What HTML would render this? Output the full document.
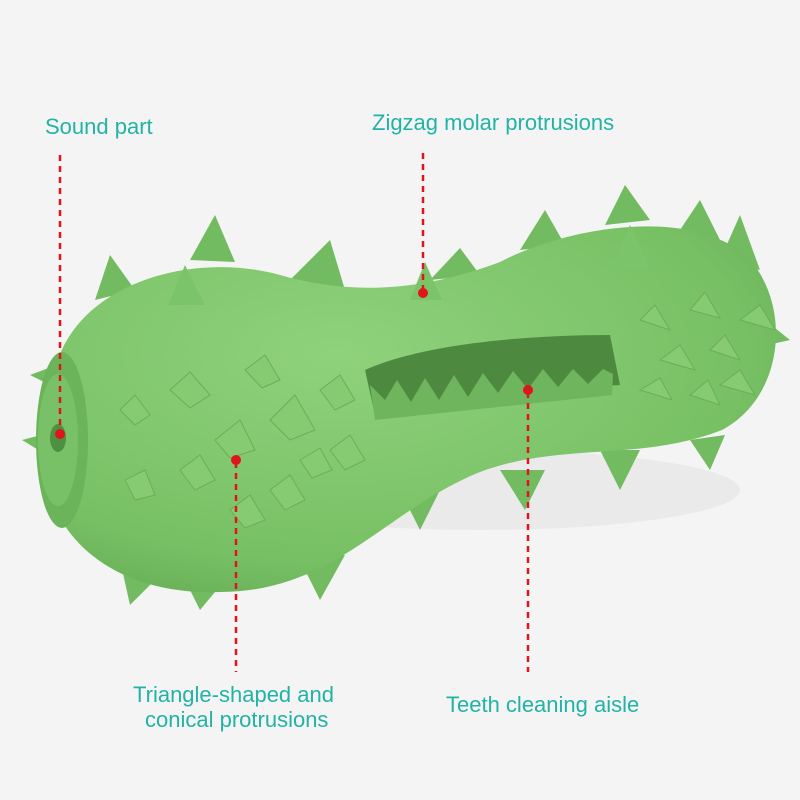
<!DOCTYPE html>
<html><head><meta charset="utf-8"><style>
html,body{margin:0;padding:0;background:#f4f4f4;}
.w{position:relative;width:800px;height:800px;overflow:hidden;background:#f4f4f4;font-family:"Liberation Sans",sans-serif;}
.t{position:absolute;color:#22b3a6;font-size:22px;white-space:nowrap;}
svg{position:absolute;left:0;top:0;}
</style></head><body><div class="w">
<svg width="800" height="800" viewBox="0 0 800 800">
<defs>
<radialGradient id="g" cx="0.4" cy="0.35" r="0.8">
<stop offset="0" stop-color="#8fd27c"/><stop offset="0.7" stop-color="#78c064"/><stop offset="1" stop-color="#5fa64f"/>
</radialGradient>
</defs>
<ellipse cx="480" cy="490" rx="260" ry="40" fill="#eaeaea"/>
<g fill="#72bb60">
<polygon points="190,260 215,215 235,262"/><polygon points="95,300 110,255 135,290"/>
<polygon points="290,280 330,240 345,290"/><polygon points="430,280 460,248 480,275"/>
<polygon points="520,250 545,210 565,245"/><polygon points="605,225 625,185 650,220"/>
<polygon points="680,230 700,200 720,240"/><polygon points="720,260 740,215 760,270"/>
<polygon points="120,560 130,605 160,575"/><polygon points="185,580 200,610 225,580"/>
<polygon points="300,560 320,600 345,555"/><polygon points="400,490 420,530 440,490"/>
<polygon points="500,470 525,510 545,470"/><polygon points="600,450 620,490 640,450"/>
<polygon points="690,440 710,470 725,435"/><polygon points="740,300 790,340 745,350"/>
<polygon points="30,375 70,360 60,390"/><polygon points="22,440 60,430 55,460"/>
</g>
<path d="M55,370 C75,285 190,250 280,275 C350,295 420,292 500,262 C570,225 700,205 752,262 C792,312 782,398 722,430 C640,462 560,442 480,472 C385,510 335,592 220,592 C118,596 48,540 44,462 Z" fill="url(#g)"/>
<ellipse cx="62" cy="440" rx="26" ry="88" fill="#6cb45a"/>
<ellipse cx="58" cy="440" rx="20" ry="66" fill="#79c166"/>
<ellipse cx="58" cy="438" rx="8" ry="14" fill="#4f8f42"/>
<path d="M365,370 C420,345 520,335 610,335 L620,385 C540,390 440,400 375,415 Z" fill="#4d8a40"/>
<path d="M370,385 l15,15 l12,-20 l14,22 l14,-24 l14,22 l15,-25 l14,22 l15,-24 l15,20 l15,-22 l15,18 l15,-20 l15,18 l15,-18 l15,15 l15,-15 l10,5 L612,395 L375,420 Z" fill="#6fb55d"/>
<g fill="#86cb72" stroke="#6aae58" stroke-width="1">
<polygon points="120,410 135,395 150,415 135,425"/><polygon points="170,390 190,372 210,395 190,408"/>
<polygon points="215,440 240,420 255,450 230,458"/><polygon points="270,420 295,395 315,430 290,440"/>
<polygon points="245,370 265,355 280,380 262,388"/><polygon points="125,480 145,470 155,495 135,500"/>
<polygon points="180,470 200,455 215,480 195,490"/><polygon points="270,490 290,475 305,500 285,510"/>
<polygon points="320,390 340,375 355,400 335,410"/><polygon points="330,450 350,435 365,460 345,470"/>
<polygon points="230,510 250,495 265,520 245,528"/><polygon points="300,460 320,448 332,470 312,478"/>
<polygon points="640,320 655,305 670,330"/><polygon points="690,310 705,292 720,318"/>
<polygon points="660,360 680,345 695,370"/><polygon points="710,350 725,335 740,360"/>
<polygon points="740,320 760,305 775,330"/><polygon points="720,385 740,370 755,395"/>
<polygon points="640,390 660,378 672,400"/><polygon points="690,395 708,380 720,405"/>
</g>
<g fill="#7cc469">
<polygon points="168,305 185,265 205,305"/><polygon points="410,300 425,262 442,300"/><polygon points="610,270 630,225 650,268"/>
</g>
<g stroke="#e0141c" stroke-width="2.5" stroke-dasharray="6,5">
<line x1="60" y1="155" x2="60" y2="432"/><line x1="423" y1="153" x2="423" y2="292"/>
<line x1="236" y1="462" x2="236" y2="672"/><line x1="528" y1="392" x2="528" y2="672"/>
</g>
<g fill="#e0141c"><circle cx="60" cy="434" r="5"/><circle cx="423" cy="293" r="5"/><circle cx="236" cy="460" r="5"/><circle cx="528" cy="390" r="5"/></g>
</svg>
<div class="t" style="left:45px;top:114px">Sound part</div>
<div class="t" style="left:372px;top:110px">Zigzag molar protrusions</div>
<div class="t" style="left:133px;top:682px">Triangle-shaped and</div>
<div class="t" style="left:145px;top:707px">conical protrusions</div>
<div class="t" style="left:446px;top:692px">Teeth cleaning aisle</div>
</div></body></html>
